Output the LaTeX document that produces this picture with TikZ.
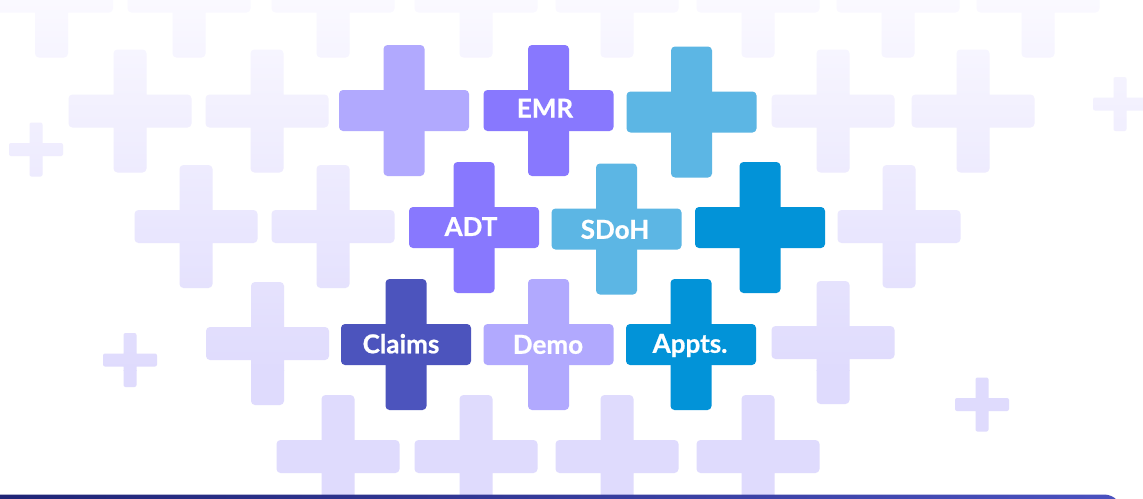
\documentclass[tikz,border=0pt]{standalone}
\usepackage{fontspec}
\setmainfont{Lato}[BoldFeatures={FakeBold=0.8}]
\definecolor{lav}{HTML}{B1A9FE}
\definecolor{purp}{HTML}{8878FE}
\definecolor{lblue}{HTML}{5CB6E4}
\definecolor{dblue}{HTML}{0293D8}
\definecolor{indigo}{HTML}{4C54BD}
\definecolor{bgtop}{HTML}{FCFBFF}
\definecolor{bgbot}{HTML}{DFDBFD}
\definecolor{navyL}{HTML}{1E2373}
\definecolor{navyR}{HTML}{4A51BF}
% big foreground cross: centre x, centre y, colour
\newcommand{\fgcross}[3]{%
  \fill[#3, rounded corners=4] (#1-65,#2-20.5) rectangle ++(130,41);
  \fill[#3, rounded corners=4] (#1-20.5,#2-65.5) rectangle ++(41,131);}
% background cross path pieces (used inside a clip path)
\newcommand{\bgcross}[2]{%
  (#1-61.5,#2-16.5) [rounded corners=4] rectangle ++(123,33)
  (#1-16.5,#2-61.5) [rounded corners=4] rectangle ++(33,123)}
\newcommand{\smcross}[2]{%
  (#1-27,#2-6.5) [rounded corners=2] rectangle ++(54,13)
  (#1-6.5,#2-27) [rounded corners=2] rectangle ++(13,54)}
\tikzset{
  lbl/.style={text=white, font=\fontsize{26}{30}\selectfont\bfseries,
    inner sep=0pt, text height=18.5pt, text depth=0pt, anchor=center}
}
\begin{document}
\begin{tikzpicture}[x=1pt,y=-1pt]
\clip (0,0) rectangle (1143,498);
\fill[white] (0,0) rectangle (1143,498);
% background crosses with vertical fade
\begin{scope}
\clip \bgcross{51.5}{-4} \bgcross{189}{-4} \bgcross{333}{-4} \bgcross{476}{-4}
      \bgcross{617}{-4} \bgcross{758}{-4} \bgcross{898}{-4} \bgcross{1038}{-4}
      \bgcross{130}{111} \bgcross{267}{111} \bgcross{833}{111} \bgcross{973}{111}
      \bgcross{196}{226.5} \bgcross{333}{226.5} \bgcross{899}{226.5}
      \bgcross{267.5}{343.5} \bgcross{833}{342.5}
      \bgcross{338}{456.5} \bgcross{476}{456.5} \bgcross{617}{456.5} \bgcross{758}{456.5}
      \smcross{36}{149.5} \smcross{1120}{104} \smcross{130}{360} \smcross{982}{404.5};
\shade[top color=bgtop, bottom color=bgbot] (0,-25) rectangle (1143,370);
\fill[bgbot] (0,370) rectangle (1143,520);
\end{scope}
% foreground crosses
\fgcross{404}{110.5}{lav}
\fgcross{548.5}{110.5}{purp}
\fgcross{691.5}{112}{lblue}
\fgcross{474}{227.5}{purp}
\fgcross{616.5}{229}{lblue}
\fgcross{760}{227.5}{dblue}
\fgcross{406}{344.5}{indigo}
\fgcross{548.5}{344.5}{lav}
\fgcross{691}{344.5}{dblue}
% labels
\node[lbl] (emr) at (545,108.3) {EMR};
\node[lbl] (adt) at (471,226.7) {ADT};
\node[lbl] (sdoh) at (615,229.5) {SDoH};
\node[lbl] (claims) at (401,344) {Claims};
\node[lbl] (demo) at (548,344.5) {Demo};
\node[lbl] (appts) at (690,343.5) {Appts.};
% bottom bar
\shade[left color=navyL, right color=navyR, rounded corners=18] (-40,494.5) rectangle (1122,560);
\end{tikzpicture}
\end{document}
